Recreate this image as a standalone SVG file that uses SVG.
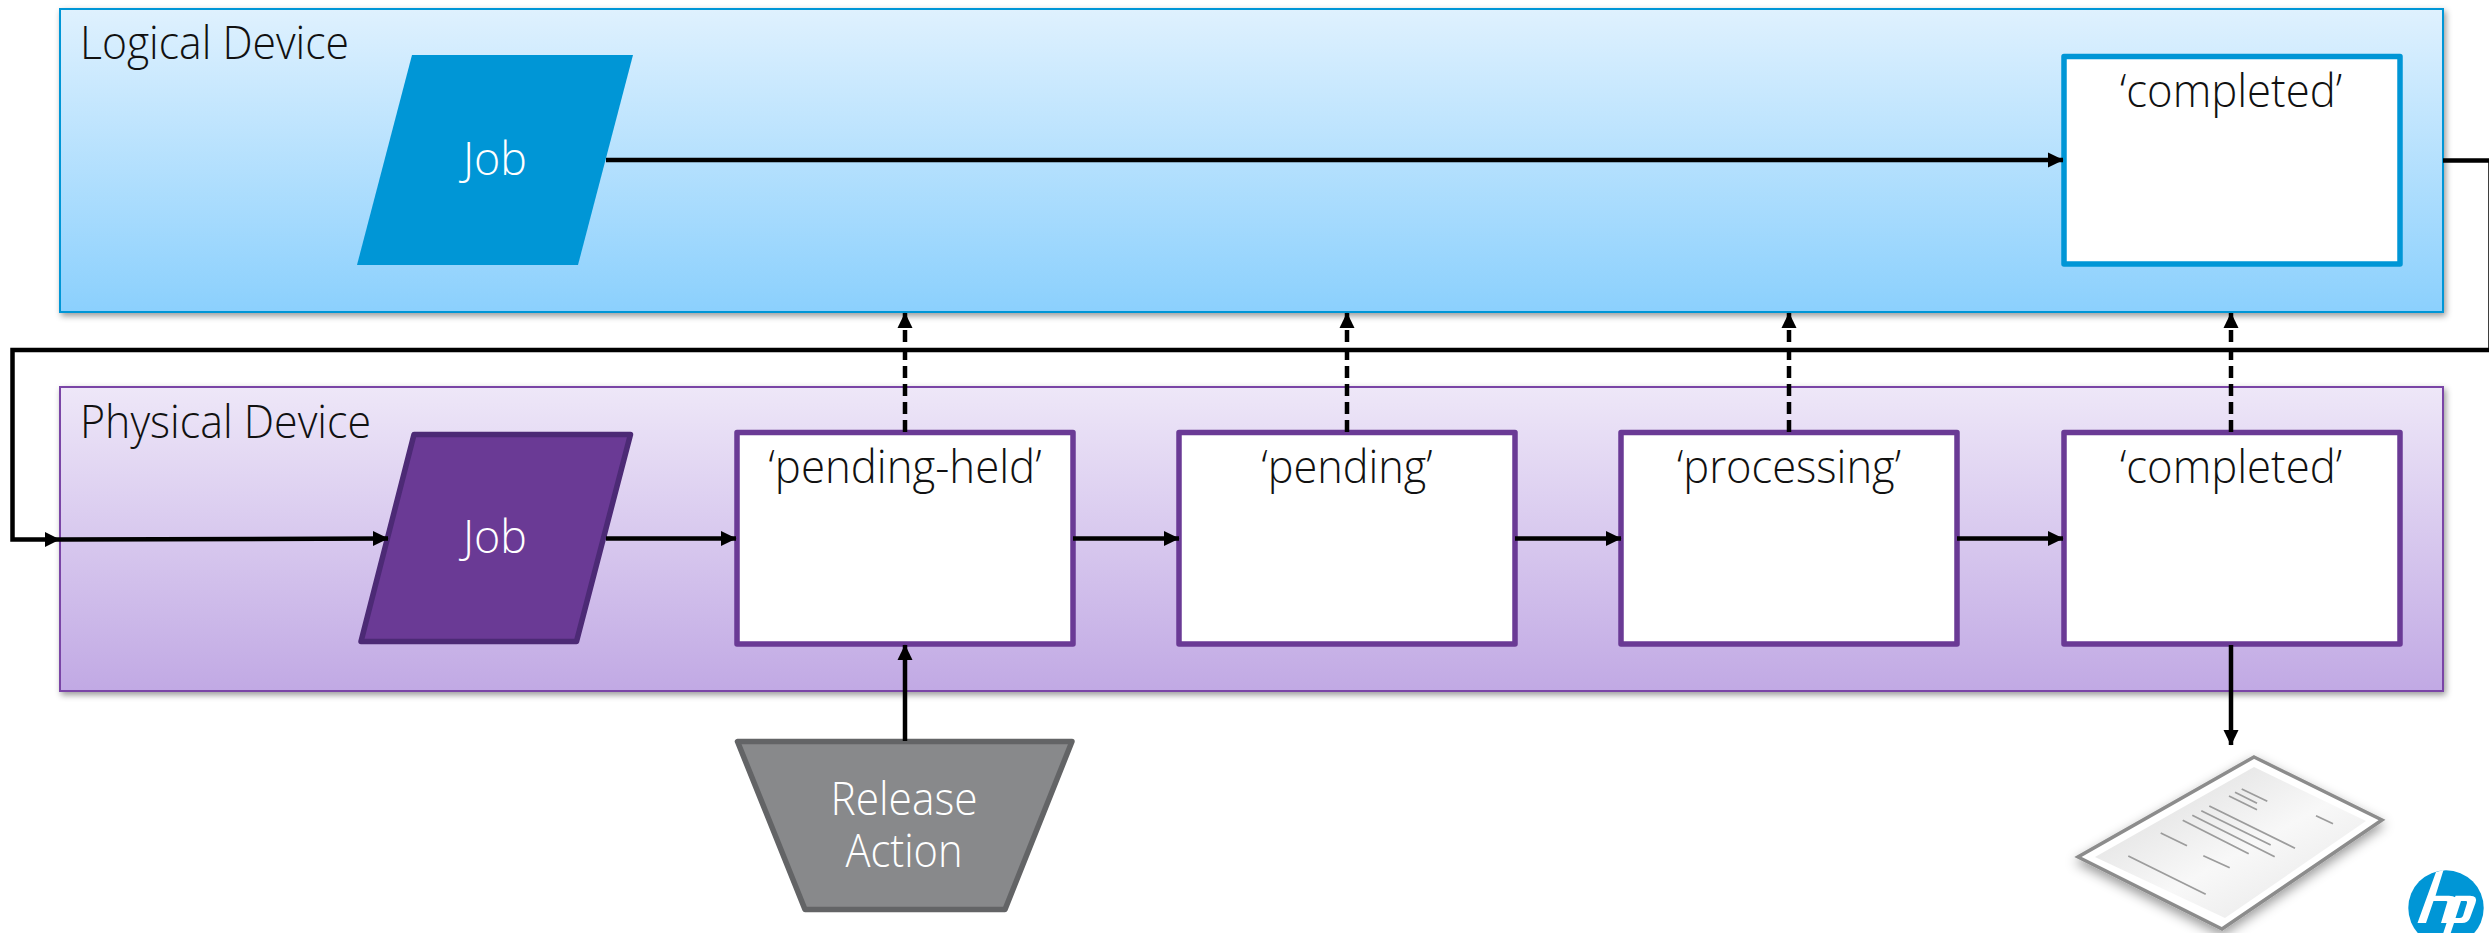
<svg xmlns="http://www.w3.org/2000/svg" width="2489" height="933" viewBox="0 0 2489 933">
<defs>
<linearGradient id="gl" x1="0" y1="0" x2="0" y2="1"><stop offset="0" stop-color="#dff1fe"/><stop offset="1" stop-color="#8bd0fd"/></linearGradient>
<linearGradient id="gp" x1="0" y1="0" x2="0" y2="1"><stop offset="0" stop-color="#eee7f8"/><stop offset="1" stop-color="#c1a9e4"/></linearGradient>
<linearGradient id="gs" x1="0" y1="0" x2="1" y2="1"><stop offset="0" stop-color="#d8d8d8"/><stop offset="0.55" stop-color="#f8f8f8"/><stop offset="1" stop-color="#e4e4e4"/></linearGradient>
<filter id="sh" x="-5%" y="-5%" width="110%" height="115%"><feDropShadow dx="2" dy="3" stdDeviation="3" flood-color="#000" flood-opacity="0.4"/></filter>
<filter id="psh" x="-15%" y="-15%" width="130%" height="130%"><feDropShadow dx="0" dy="5" stdDeviation="6" flood-color="#000" flood-opacity="0.4"/></filter>
<marker id="a" markerUnits="userSpaceOnUse" markerWidth="16" markerHeight="16" refX="15" refY="8" orient="auto"><path d="M0 0.500L15.500 8L0 15.500Z" fill="#000"/></marker>
</defs>
<style>
text{font-family:"Open Sans","Noto Sans","Liberation Sans",sans-serif;font-weight:300}
.t{font-size:46px;fill:#111;text-anchor:middle}
.w{font-size:46px;fill:#fff;text-anchor:middle}
.l{font-size:46px;fill:#111}
.c{fill:none;stroke:#000;stroke-width:4.500}
.d{stroke-dasharray:12 6}
.s{fill:#fff;stroke:#6a3a95;stroke-width:5.500;stroke-linejoin:round}
.pl{stroke:#9c9c9c;stroke-width:1.800;fill:none}
</style>
<g id="logical-device"><rect x="60" y="9" width="2383" height="303" fill="url(#gl)" stroke="#0096d6" stroke-width="2" filter="url(#sh)"/><text class="l" x="80" y="59" textLength="269" lengthAdjust="spacingAndGlyphs">Logical Device</text></g>
<g id="physical-device"><rect x="60" y="387" width="2383" height="304" fill="url(#gp)" stroke="#7a44a6" stroke-width="2" filter="url(#sh)"/><text class="l" x="80" y="438" textLength="291" lengthAdjust="spacingAndGlyphs">Physical Device</text></g>
<g id="job-logical"><polygon points="412,55 633,55 578,265 357,265" fill="#0096d6"/><text class="w" x="495" y="175" textLength="64" lengthAdjust="spacingAndGlyphs">Job</text></g>
<g id="completed-logical"><rect x="2064" y="56.500" width="336" height="207.500" fill="#fff" stroke="#0096d6" stroke-width="5.500" stroke-linejoin="round"/><text class="t" x="2231" y="107" textLength="222" lengthAdjust="spacingAndGlyphs">‘completed’</text></g>
<g id="job-physical"><polygon points="414,434.500 630.500,434.500 576.500,641.500 361,641.500" fill="#6a3a95" stroke="#4c2a75" stroke-width="5.500" stroke-linejoin="round"/><text class="w" x="495" y="553" textLength="64" lengthAdjust="spacingAndGlyphs">Job</text></g>
<g id="pending-held"><rect x="737" y="432.500" width="336" height="211.500" class="s"/><text class="t" x="905" y="483" textLength="273" lengthAdjust="spacingAndGlyphs">‘pending-held’</text></g>
<g id="pending"><rect x="1179" y="432.500" width="336" height="211.500" class="s"/><text class="t" x="1347" y="483" textLength="171" lengthAdjust="spacingAndGlyphs">‘pending’</text></g>
<g id="processing"><rect x="1621" y="432.500" width="336" height="211.500" class="s"/><text class="t" x="1789" y="483" textLength="224" lengthAdjust="spacingAndGlyphs">‘processing’</text></g>
<g id="completed-physical"><rect x="2064" y="432.500" width="336" height="211.500" class="s"/><text class="t" x="2231" y="483" textLength="222" lengthAdjust="spacingAndGlyphs">‘completed’</text></g>
<g id="release-action"><polygon points="737.500,741.500 1072,741.500 1005,909.500 805,909.500" fill="#88898b" stroke="#636466" stroke-width="5.500" stroke-linejoin="round"/><text class="w" x="904" y="815" textLength="147" lengthAdjust="spacingAndGlyphs">Release</text><text class="w" x="904" y="867" textLength="117" lengthAdjust="spacingAndGlyphs">Action</text></g>
<g id="printed-page"><polygon filter="url(#psh)" points="2254,757 2382,820 2222,929 2078,857" fill="#fff" stroke="#8c8c8c" stroke-width="3.500"/><polygon points="2254,767 2366,821 2225,918 2095,857" fill="url(#gs)"/>
<path class="pl" d="M2241.700 789L2267.300 801.300M2235 792.300L2257 803.300M2229 796L2257 809.700M2209.300 806L2295 848.300M2201.300 810.700L2270.700 845M2192.300 815.300L2274.700 856.700M2182.700 820.300L2248.700 853.700M2160.700 833L2187 845.700M2128.300 856L2205.700 894.300M2203.300 855.700L2229.700 867.700M2316 815.700L2333 823.700"/></g>
<g id="hp-logo"><circle cx="2446" cy="908" r="37.700" fill="#0096d6"/><path d="M2436 872L2443.500 870L2435.500 895.700H2449Q2458 895.700 2455.500 902L2449 923H2441L2447 903Q2448 901 2446 901H2433.500L2426 923H2417.500Z" fill="#fff"/><path fill-rule="evenodd" d="M2455.500 895.700H2470Q2478 895.700 2475.500 903L2470 918Q2468 923 2462 923H2454L2450.700 933H2443.300ZM2461 901L2455.500 918H2460Q2462 918 2463 916L2467 903Q2467.500 901 2466 901Z" fill="#fff"/></g>
<g id="connectors">
<path class="c" marker-end="url(#a)" d="M606 160H2063"/>
<path class="c" d="M2443 160.500H2490.500V350H12.500V539.500H60"/>
<path d="M45 532L60 539.500L45 547Z" fill="#000"/>
<path class="c" marker-end="url(#a)" d="M60 539.500L388 538.500"/>
<path class="c" marker-end="url(#a)" d="M606 538.500H736"/>
<path class="c" marker-end="url(#a)" d="M1073 538.500H1179"/>
<path class="c" marker-end="url(#a)" d="M1515 538.500H1621"/>
<path class="c" marker-end="url(#a)" d="M1957 538.500H2063"/>
<path class="c d" marker-end="url(#a)" d="M905 432V313"/>
<path class="c d" marker-end="url(#a)" d="M1347 432V313"/>
<path class="c d" marker-end="url(#a)" d="M1789 432V313"/>
<path class="c d" marker-end="url(#a)" d="M2231 432V313"/>
<path class="c" marker-end="url(#a)" d="M905 741V645"/>
<path class="c" marker-end="url(#a)" d="M2231 645L2231 745"/>
</g>
</svg>
